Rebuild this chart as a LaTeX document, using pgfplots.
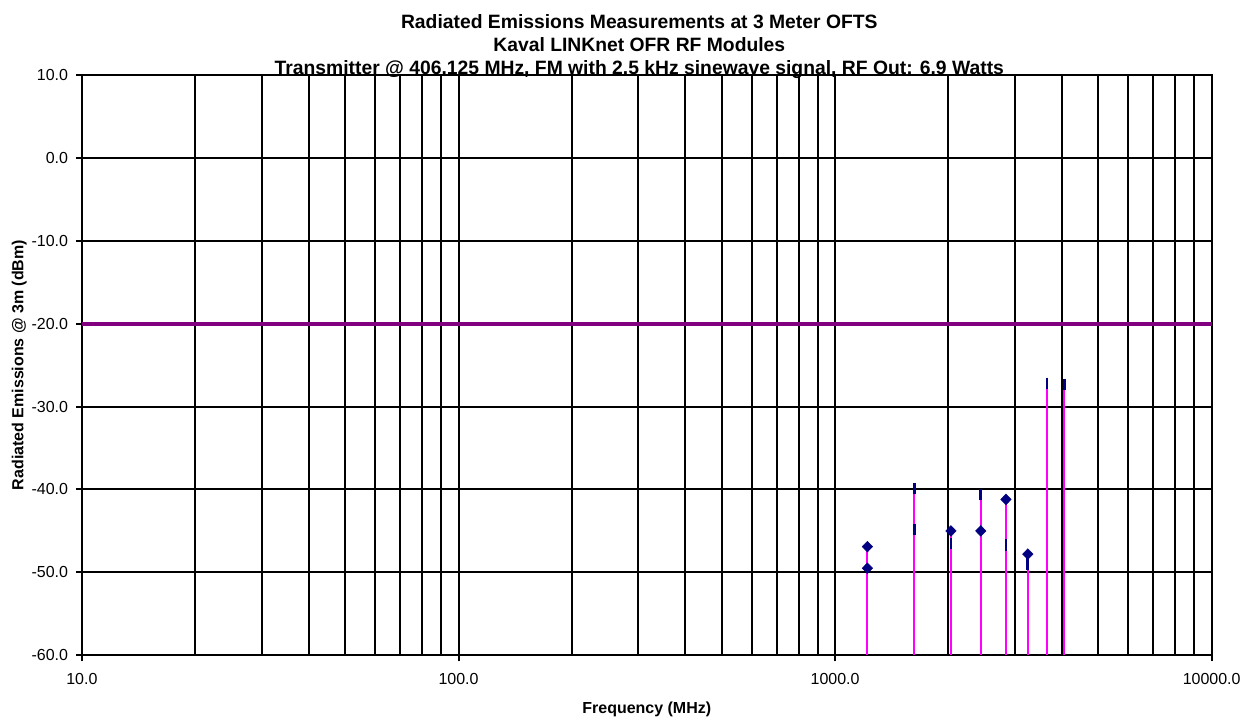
\documentclass[border=0pt]{standalone}
\usepackage{pgfplots}
\pgfplotsset{compat=1.18}
\usepackage{fontspec}
\setmainfont{Liberation Sans}
\definecolor{navy}{HTML}{000080}
\definecolor{limitpurple}{HTML}{800080}
\definecolor{stemmag}{HTML}{FF00FF}
\begin{document}
\begin{tikzpicture}
\begin{axis}[
  at={(0,0)}, anchor=south west,
  scale only axis, width=848.25pt, height=435.75pt,
  xmode=log, log basis x=10,
  xmin=10, xmax=10000, ymin=-60, ymax=10,
  xtick={10,100,1000,10000},
  xticklabels={10.0,100.0,1000.0,10000.0},
  minor xtick={20,30,40,50,60,70,80,90,200,300,400,500,600,700,800,900,2000,3000,4000,5000,6000,7000,8000,9000},
  ytick={-60,-50,-40,-30,-20,-10,0,10},
  yticklabels={-60.0,-50.0,-40.0,-30.0,-20.0,-10.0,0.0,10.0},
  xmajorgrids, xminorgrids, ymajorgrids,
  major grid style={black, line width=1.5pt},
  minor grid style={black, line width=1.5pt},
  axis line style={black, line width=1.5pt},
  tick align=outside,
  major tick length=4.5pt,
  minor tick length=0pt,
  tick style={black, line width=1.5pt},
  xtick pos=left, ytick pos=left,
  tick label style={font=\fontsize{12}{14}\selectfont},
  xticklabel style={yshift=-5.5pt},
  yticklabel style={xshift=-2.4pt},
  xlabel={Frequency (MHz)},
  xlabel style={at={(axis description cs:0.5,-0.1003)}, anchor=base, font=\bfseries\fontsize{12}{14}\selectfont},
  ylabel={Radiated Emissions @ 3m (dBm)},
  ylabel style={at={(axis description cs:-0.05175,0.5)}, anchor=base, font=\bfseries\fontsize{12}{14}\selectfont},
  clip=false,
]
% magenta stems
\addplot[stemmag, line width=1.6pt, unbounded coords=jump, forget plot] coordinates {
(1218.4,-60) (1218.4,-46.9) (1218.4,nan)
(1624.5,-60) (1624.5,-39.9) (1624.5,nan)
(2030.6,-60) (2030.6,-45.0) (2030.6,nan)
(2436.8,-60) (2436.8,-40.6) (2436.8,nan)
(2842.9,-60) (2842.9,-41.2) (2842.9,nan)
(3249.0,-60) (3249.0,-47.8) (3249.0,nan)
(3655.1,-60) (3655.1,-27.2) (3655.1,nan)
(4061.3,-60) (4061.3,-27.3)
};
% limit line
\addplot[limitpurple, line width=3pt] coordinates {(10,-20) (10000,-20)};
% diamond markers
\addplot[only marks, mark=diamond*, mark size=4pt, mark options={xscale=1.3, fill=navy, draw=navy}] coordinates {
(1218.4,-46.9) (1218.4,-49.5) (2030.6,-45.0) (2436.8,-45.0) (2842.9,-41.2) (3249.0,-47.8)
};
% dash markers
\addplot[only marks, mark=|, mark size=4.2pt, mark options={line width=2pt, draw=navy}] coordinates {
(1624.5,-39.9) (1624.5,-44.8) (2030.6,-46.5) (2436.8,-40.6) (2842.9,-46.7) (3249.0,-49.0) (3655.1,-27.2) (4061.3,-27.3)
};
\end{axis}
\node[anchor=base, font=\bfseries\fontsize{14.5}{17}\selectfont] at (418.5pt,470.75pt) {Radiated Emissions Measurements at 3 Meter OFTS};
\node[anchor=base, font=\bfseries\fontsize{14.5}{17}\selectfont] at (418.5pt,453.25pt) {Kaval LINKnet OFR RF Modules};
\node[anchor=base, font=\bfseries\fontsize{14.5}{17}\selectfont] at (418.5pt,436pt) {Transmitter @ 406.125 MHz, FM with 2.5 kHz sinewave signal, RF Out: 6.9 Watts};
\path[use as bounding box] (-61.5pt,-47.25pt) rectangle (872.25pt,492pt);
\end{tikzpicture}
\end{document}
